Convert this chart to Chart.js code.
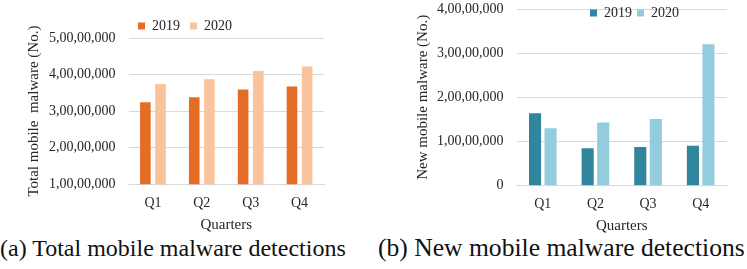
<!DOCTYPE html>
<html>
<head>
<meta charset="utf-8">
<script src="https://cdn.jsdelivr.net/npm/chart.js@4.4.1/dist/chart.umd.min.js"></script>
<style>
  body { margin: 0; background: #fff; width: 747px; height: 269px; overflow: hidden; position: relative; }
  canvas { position: absolute; top: 0; }
  #chartTotal { left: 0; }
  #chartNew { left: 374px; }
  .caption { position: absolute; font-family: 'Liberation Serif', serif; color: #111; white-space: nowrap; line-height: 1; }
  #capA { left: 0; top: 236px; font-size: 24px; }
  #capB { left: 378px; top: 235px; font-size: 25.6px; }
</style>
</head>
<body>
<canvas id="chartTotal" width="345" height="232"></canvas>
<canvas id="chartNew" width="373" height="233"></canvas>
<div class="caption" id="capA">(a) Total mobile malware detections</div>
<div class="caption" id="capB">(b) New mobile malware detections</div>
<script>
// dados
const quarters = ['Q1', 'Q2', 'Q3', 'Q4'];
const seriesNames = ['2019', '2020'];
const total2019 = [32400000, 33800000, 35900000, 36700000];
const total2020 = [37400000, 38700000, 41000000, 42200000];
const new2019 = [16400000, 8500000, 8750000, 9050000];
const new2020 = [13000000, 14300000, 15100000, 32000000];

Chart.defaults.font.family = "'Liberation Serif', serif";
Chart.defaults.color = '#262626';

// 5,00,00,000 style
const indian = (n) => {
    const s = String(Math.round(n));
    if (s.length <= 3) return s;
    const rest = s.slice(0, -3).replace(/\B(?=(\d{2})+(?!\d))/g, ',');
    return rest + ',' + s.slice(-3);
};

// legend drawn at a fixed spot, without taking room from the plot
const legendSpot = {
    id: 'legendSpot',
    afterInit(chart) {
        const lg = chart.legend;
        const fit = lg.fit.bind(lg);
        lg.fit = function () { fit(); this._realH = this.height; this.height = 0; };
    },
    afterLayout(chart, args, opts) {
        const lg = chart.legend;
        const pad = chart.options.plugins.legend.labels.padding;
        const w = lg.right - lg.left;
        lg.left = opts.x - pad;
        lg.right = lg.left + w;
        lg.top = opts.y - pad - 7;
        lg.bottom = lg.top + (lg._realH || 40);
    }
};

const grafico = (id, dados, cores, o) => {
    return new Chart(document.getElementById(id), {
        type: 'bar',
        data: {
            labels: quarters,
            datasets: dados.map((d, i) => ({
                label: seriesNames[i],
                data: d,
                backgroundColor: cores[i],
                categoryPercentage: o.cat,
                barPercentage: o.bar
            }))
        },
        options: {
            responsive: false,
            animation: false,
            devicePixelRatio: 1,
            layout: { padding: o.padding },
            plugins: {
                legend: {
                    position: 'top',
                    align: 'start',
                    labels: { boxWidth: 7, boxHeight: 7, padding: o.legendPad, font: { size: 14 } }
                },
                legendSpot: o.legend,
                tooltip: { enabled: false }
            },
            scales: {
                x: {
                    grid: { display: false, drawTicks: false },
                    border: { color: '#d9d9d9' },
                    ticks: { font: { size: 14 }, padding: o.xTickPad },
                    title: { display: true, text: 'Quarters', font: { size: 15 }, padding: { top: o.xTitlePad, bottom: -2 } }
                },
                y: {
                    min: o.min,
                    max: o.max,
                    grid: { color: '#d9d9d9', drawTicks: false },
                    border: { display: false },
                    ticks: { stepSize: 10000000, font: { size: 14 }, padding: 13, callback: (v) => indian(v) },
                    title: { display: true, text: o.yTitle, font: { size: 15 }, padding: { top: 5, bottom: o.yTitleBottom } },
                    afterFit: (s) => { s.paddingTop = 9; }
                }
            }
        },
        plugins: [legendSpot]
    });
};

grafico('chartTotal', [total2019, total2020], ['#E46C24', '#F9C39B'], {
    cat: 0.62, bar: 0.7,
    min: 10000000, max: 50000000,
    padding: { left: 20, right: 21, top: 38, bottom: 0 },
    legend: { x: 138, y: 26 }, legendPad: 10,
    xTickPad: 11, xTitlePad: -7, yTitleBottom: -7,
    yTitle: 'Total mobile  malware (No.)'
});

grafico('chartNew', [new2019, new2020], ['#31859C', '#93CDDD'], {
    cat: 0.59, bar: 0.78,
    min: 0, max: 40000000,
    padding: { left: 35, right: 20, top: 9, bottom: 0 },
    legend: { x: 216, y: 13 }, legendPad: 5,
    xTickPad: 10, xTitlePad: -5.5, yTitleBottom: -8,
    yTitle: 'New mobile malware (No.)'
});
</script>
</body>
</html>
